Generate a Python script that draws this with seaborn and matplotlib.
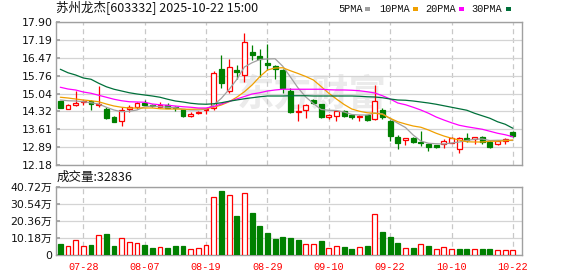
import numpy as np
import pandas as pd
import matplotlib
matplotlib.use("Agg")
import matplotlib.pyplot as plt
from matplotlib.patches import Rectangle
import seaborn as sns

# ---------------- data ----------------
dates = ["07-23", "07-24", "07-25", "07-28", "07-29", "07-30", "07-31", "08-01", "08-04", "08-05",
         "08-06", "08-07", "08-08", "08-11", "08-12", "08-13", "08-14", "08-15", "08-18", "08-19",
         "08-20", "08-21", "08-22", "08-25", "08-26", "08-27", "08-28", "08-29", "09-01", "09-02",
         "09-03", "09-04", "09-05", "09-08", "09-09", "09-10", "09-11", "09-12", "09-15", "09-16",
         "09-17", "09-18", "09-19", "09-22", "09-23", "09-24", "09-25", "09-26", "09-29", "09-30",
         "10-09", "10-10", "10-13", "10-14", "10-15", "10-16", "10-17", "10-20", "10-21", "10-22"]

opens = [14.74, 14.43, 14.58, 14.70, 14.75, 14.59, 14.42, 14.11, 13.93, 14.43,
         14.51, 14.67, 14.59, 14.51, 14.57, 14.51, 14.41, 14.15, 14.27, 14.38,
         14.45, 16.02, 15.15, 15.98, 15.78, 16.70, 16.54, 16.25, 16.14, 15.98,
         15.13, 14.30, 14.38, 14.78, 14.62, 14.09, 14.15, 14.34, 14.19, 14.09,
         14.17, 14.01, 14.38, 13.94, 13.31, 13.18, 13.26, 13.10, 13.02, 12.98,
         13.02, 13.07, 12.82, 13.27, 13.21, 13.29, 13.10, 13.02, 13.15, 13.49]
highs = [14.76, 14.62, 15.15, 14.78, 14.78, 15.34, 14.49, 14.14, 14.49, 14.58,
         14.70, 14.78, 14.62, 14.70, 14.65, 14.55, 14.44, 14.29, 14.34, 14.45,
         15.95, 16.59, 16.41, 16.18, 17.47, 16.98, 16.83, 17.02, 16.18, 16.01,
         15.25, 14.61, 14.62, 14.82, 14.64, 14.22, 14.38, 14.38, 14.24, 14.18,
         14.20, 15.38, 14.45, 13.98, 13.38, 13.28, 13.31, 13.54, 13.05, 13.00,
         13.21, 13.31, 13.31, 13.45, 13.32, 13.34, 13.18, 13.17, 13.27, 13.56]
lows = [14.45, 14.41, 14.55, 14.57, 14.38, 14.49, 14.02, 13.90, 13.75, 14.30,
        14.41, 14.54, 14.50, 14.46, 14.45, 14.33, 14.12, 14.11, 14.22, 14.21,
        14.38, 15.25, 15.07, 15.61, 15.50, 16.38, 15.71, 15.98, 15.63, 15.07,
        14.27, 13.95, 14.07, 14.62, 14.05, 14.03, 13.95, 14.12, 14.03, 13.95,
        13.95, 13.98, 14.03, 13.15, 12.81, 12.99, 13.05, 12.94, 12.75, 12.86,
        12.86, 13.05, 12.67, 13.11, 13.02, 13.02, 12.86, 12.99, 13.02, 13.30]
closes = [14.47, 14.57, 14.65, 14.74, 14.62, 14.63, 14.07, 13.91, 14.38, 14.49,
          14.67, 14.59, 14.54, 14.57, 14.47, 14.45, 14.15, 14.21, 14.31, 14.43,
          15.85, 15.45, 16.09, 15.91, 17.09, 16.59, 16.43, 16.17, 16.01, 15.25,
          14.31, 14.33, 14.58, 14.67, 14.09, 14.17, 14.34, 14.15, 14.09, 14.15,
          13.98, 14.74, 14.11, 13.35, 13.07, 13.26, 13.10, 13.07, 12.91, 12.90,
          13.13, 13.26, 13.26, 13.18, 13.29, 13.10, 12.91, 13.15, 13.23, 13.34]

ma5 = [14.78, 14.75, 14.74, 14.71, 14.67, 14.62, 14.49, 14.38, 14.31, 14.33,
       14.38, 14.51, 14.54, 14.51, 14.49, 14.47, 14.41, 14.38, 14.38, 14.41,
       14.58, 14.85, 15.20, 15.60, 16.10, 16.27, 16.40, 16.42, 16.43, 16.13,
       15.70, 15.26, 14.90, 14.64, 14.40, 14.37, 14.36, 14.30, 14.20, 14.18,
       14.18, 14.26, 14.23, 14.03, 13.85, 13.68, 13.38, 13.14, 13.05, 13.03,
       13.02, 13.06, 13.10, 13.16, 13.21, 13.22, 13.16, 13.17, 13.17, 13.16]
ma10 = [14.89, 14.86, 14.82, 14.78, 14.75, 14.71, 14.62, 14.54, 14.49, 14.46,
        14.46, 14.46, 14.46, 14.43, 14.42, 14.42, 14.41, 14.41, 14.42, 14.43,
        14.49, 14.58, 14.71, 14.89, 15.11, 15.38, 15.71, 15.98, 16.06, 16.07,
        15.95, 15.84, 15.72, 15.58, 15.32, 15.05, 14.82, 14.60, 14.42, 14.33,
        14.27, 14.25, 14.21, 14.05, 13.91, 13.82, 13.74, 13.69, 13.58, 13.45,
        13.34, 13.25, 13.18, 13.11, 13.10, 13.10, 13.13, 13.13, 13.15, 13.18]
ma20 = [15.29, 15.22, 15.18, 15.10, 15.05, 14.97, 14.89, 14.81, 14.75, 14.71,
        14.70, 14.69, 14.62, 14.59, 14.57, 14.54, 14.51, 14.49, 14.46, 14.46,
        14.52, 14.62, 14.72, 14.82, 14.92, 15.02, 15.07, 15.14, 15.18, 15.21,
        15.21, 15.21, 15.21, 15.21, 15.21, 15.19, 15.18, 15.18, 15.17, 15.15,
        15.11, 15.06, 14.95, 14.82, 14.66, 14.59, 14.49, 14.38, 14.25, 14.10,
        13.98, 13.87, 13.77, 13.71, 13.66, 13.61, 13.53, 13.45, 13.39, 13.31]
ma30 = [16.01, 15.87, 15.78, 15.66, 15.61, 15.45, 15.31, 15.21, 15.14, 15.07,
        15.02, 14.98, 14.94, 14.89, 14.81, 14.74, 14.70, 14.65, 14.62, 14.61,
        14.63, 14.67, 14.73, 14.78, 14.83, 14.87, 14.91, 14.94, 14.94, 14.94,
        14.95, 14.95, 14.95, 14.94, 14.94, 14.94, 14.94, 14.94, 14.94, 14.93,
        14.91, 14.90, 14.87, 14.82, 14.78, 14.77, 14.74, 14.70, 14.66, 14.61,
        14.55, 14.49, 14.43, 14.37, 14.25, 14.15, 14.05, 13.91, 13.81, 13.65]

volumes = [6.6, 5.4, 9.0, 5.4, 6.0, 11.8, 12.6, 5.4, 10.0, 7.6,
           7.0, 6.0, 4.2, 4.8, 4.2, 5.4, 5.4, 3.6, 4.2, 6.0,
           34.7, 38.3, 35.9, 23.4, 37.1, 25.1, 17.4, 13.2, 9.6, 10.8,
           10.2, 9.0, 6.4, 6.4, 8.4, 4.4, 5.4, 4.8, 3.6, 4.8,
           5.4, 24.4, 13.8, 10.8, 7.2, 4.0, 4.2, 6.4, 5.4, 3.4,
           4.8, 3.4, 3.6, 3.6, 3.4, 3.6, 3.6, 3.0, 3.0, 3.28]
vol_up = [0, 1, 1, 1, 0, 1, 0, 0, 1, 1,
          1, 0, 0, 1, 0, 0, 0, 1, 1, 1,
          1, 0, 1, 0, 1, 0, 0, 0, 0, 0,
          0, 0, 1, 1, 0, 1, 1, 0, 0, 1,
          0, 1, 0, 0, 0, 1, 0, 1, 0, 1,
          1, 1, 0, 0, 1, 0, 0, 1, 1, 1]

price_ticks = [12.18, 12.895, 13.61, 14.325, 15.04, 15.755, 16.47, 17.185, 17.90]
price_tick_labels = ["12.18", "12.89", "13.61", "14.32", "15.04", "15.76", "16.47", "17.19", "17.90"]
vol_ticks = [0, 10.18, 20.36, 30.54, 40.72]
vol_tick_labels = ["0", "10.18万", "20.36万", "30.54万", "40.72万"]
date_tick_idx = [3, 11, 19, 27, 35, 43, 51, 59]

title_text = "苏州龙杰[603332] 2025-10-22 15:00"
vol_title = "成交量:32836"
ma_names = ["5PMA", "10PMA", "20PMA", "30PMA"]
ma_colors = ["#a0a0a0", "#f0a000", "#ff00ff", "#00703a"]

# ---------------- style ----------------
sns.set_theme(style="white")
plt.rcParams["font.family"] = ["DejaVu Sans", "Noto Sans CJK SC"]

RED = "#ff0000"
GREEN = "#008000"
GRID = "#d4d4d4"
BORDER = "#a0a0a0"

W, H = 578, 276
fig = plt.figure(figsize=(W / 100, H / 100), dpi=100)
fig.patch.set_facecolor("white")


def fx(px):
    return px / W


def fy(py):
    return 1 - py / H


ax = fig.add_axes([fx(56), fy(165), fx(522) - fx(56), fy(22) - fy(165)])
axv = fig.add_axes([fx(56), fy(255), fx(522) - fx(56), fy(187) - fy(255)])

df = pd.DataFrame({"date": dates, "open": opens, "high": highs, "low": lows,
                   "close": closes, "ma5": ma5, "ma10": ma10, "ma20": ma20,
                   "ma30": ma30, "volume": volumes, "vol_up": vol_up})
df["x"] = np.arange(len(df))
up = (df["close"] >= df["open"]).to_numpy()

# ---------------- price panel ----------------
for a in (ax, axv):
    a.set_facecolor("white")
    a.set_xlim(-0.56, 60.19)
    for s in a.spines.values():
        s.set_color(BORDER)
        s.set_linewidth(1.0)
    a.set_xticks(date_tick_idx)
    a.xaxis.grid(True, color="#c8c8c8", linestyle=(0, (4, 3)), linewidth=0.9)
    a.yaxis.grid(True, color=GRID, linewidth=0.9)
    a.set_axisbelow(True)
    a.set_xlabel("")
    a.set_ylabel("")

# watermark
ax.text(0.55, 0.49, "东方财富", transform=ax.transAxes, ha="center", va="center",
        fontsize=27, fontweight="bold", color="#ebebeb",
        family=["Noto Sans CJK SC"], zorder=0.5)

wick_colors = np.where(up, RED, GREEN)
ax.vlines(df["x"], df["low"], df["high"], colors=wick_colors, linewidth=0.9, zorder=3)
body_bottom = np.minimum(df["open"], df["close"])
body_h = np.maximum(np.abs(df["close"] - df["open"]), 0.018)
ax.bar(df["x"], body_h, bottom=body_bottom, width=0.64,
       color=np.where(up, "white", GREEN), edgecolor=wick_colors,
       linewidth=0.9, zorder=4)

for col, c in zip(["ma5", "ma10", "ma20", "ma30"], ma_colors):
    sns.lineplot(data=df, x="x", y=col, ax=ax, color=c, linewidth=0.9,
                 legend=False, zorder=5)

ax.set_ylim(12.18, 17.90)
ax.set_yticks(price_ticks)
ax.set_yticklabels(price_tick_labels)
ax.set_xlabel("")
ax.set_ylabel("")
ax.tick_params(axis="x", which="both", length=0, labelbottom=False)
ax.tick_params(axis="y", direction="in", length=3, color=BORDER, pad=2.5,
               labelsize=7.8, labelcolor="#111111", left=True)

# ---------------- volume panel ----------------
vup = df["vol_up"].to_numpy() == 1
axv.bar(df["x"], df["volume"], width=0.64,
        color=np.where(vup, "white", GREEN),
        edgecolor=np.where(vup, RED, GREEN), linewidth=0.9, zorder=3)
axv.set_ylim(0, 40.72)
axv.set_yticks(vol_ticks)
axv.set_yticklabels(vol_tick_labels)
axv.set_xticklabels([dates[i] for i in date_tick_idx])
axv.tick_params(axis="y", direction="in", length=3, color=BORDER, pad=2.5,
                labelsize=7.8, labelcolor="#111111", left=True)
axv.tick_params(axis="x", length=0, pad=5, labelsize=7.3, labelcolor=RED)
for lab in axv.get_xticklabels():
    lab.set_family("Liberation Mono")

# ---------------- texts ----------------
fig.text(fx(56), fy(8.5), title_text, ha="left", va="center", fontsize=9,
         color="#111111", family=["Noto Sans CJK SC", "DejaVu Sans"])
fig.text(fx(57), fy(177), vol_title, ha="left", va="center", fontsize=9,
         color="#111111", family=["Noto Sans CJK SC", "DejaVu Sans"])

legend_text_x = [338, 379, 425, 471.5]
legend_box_x = [365.3, 413.3, 459.3, 505.5]
for name, c, tx, bx in zip(ma_names, ma_colors, legend_text_x, legend_box_x):
    fig.text(fx(tx), fy(8.5), name, ha="left", va="center", fontsize=7.4,
             color="#111111", family="Liberation Mono")
    fig.patches.append(Rectangle((fx(bx), fy(11.3)), fx(5), fy(6.7) - fy(11.3),
                                 transform=fig.transFigure, facecolor=c,
                                 edgecolor="none"))

fig.savefig("out.png", dpi=100, facecolor="white")
